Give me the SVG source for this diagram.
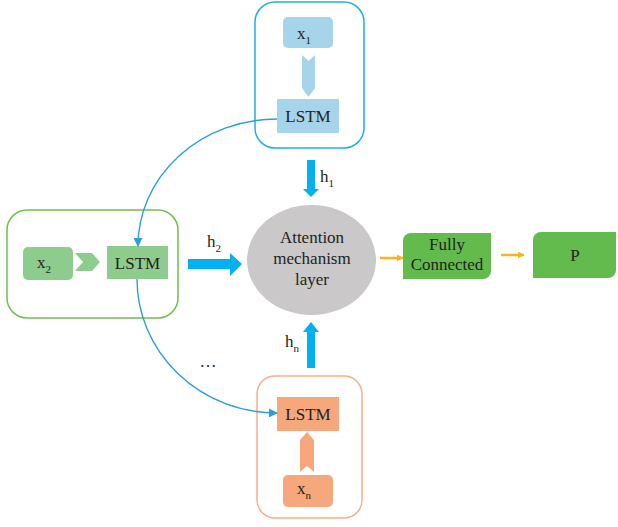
<svg xmlns="http://www.w3.org/2000/svg" width="618" height="527" viewBox="0 0 618 527">
<style>
text{font-family:"Liberation Serif","DejaVu Serif",serif;fill:#231f20;text-anchor:middle}
.t{font-size:17px}
.s{font-size:11px}
.b{fill:#a6d4ea}
.g{fill:#8dcc8d}
.o{fill:#f6a77c}
.fc{fill:#63bb4d}
.ha{fill:#00b0f0}
.cur{fill:none;stroke:#2a9fda;stroke-width:1.4}
.orl{stroke:#ffb31a;stroke-width:2.5}
</style>
<defs>
<marker id="ab" viewBox="0 0 10 10" refX="9" refY="5" markerWidth="9" markerHeight="9" markerUnits="userSpaceOnUse" orient="auto"><path d="M0,0L10,5L0,10z" fill="#2a9fda"/></marker>
<marker id="ao" viewBox="0 0 10 10" refX="9" refY="5" markerWidth="7" markerHeight="7" markerUnits="userSpaceOnUse" orient="auto"><path d="M0,0L10,5L0,10z" fill="#ffb31a"/></marker>
</defs>
<rect width="618" height="527" fill="#fff"/>
<g id="top">
<rect x="255" y="2" width="109" height="146" rx="20" fill="none" stroke="#1bb0e8" stroke-width="1.5"/>
<rect class="b" x="283" y="17" width="50" height="31" rx="5"/>
<text class="t" x="304" y="39">x<tspan class="s" dy="5">1</tspan></text>
<polygon class="b" points="302,55 308.5,61 315,55 315,88 308.5,97 302,88"/>
<rect class="b" x="277" y="99" width="62" height="34"/>
<text class="t" x="308" y="122">LSTM</text>
</g>
<g id="mid">
<rect x="7" y="210" width="171" height="108" rx="20" fill="none" stroke="#70c04d" stroke-width="1.5"/>
<rect class="g" x="23" y="247" width="50" height="33" rx="5"/>
<text class="t" x="44" y="268">x<tspan class="s" dy="5">2</tspan></text>
<polygon class="g" points="75,253 92,253 100,262 92,271 75,271 83,262"/>
<rect class="g" x="107" y="246" width="61" height="33"/>
<text class="t" x="137.5" y="269">LSTM</text>
</g>
<g id="bottom">
<rect x="257" y="376" width="105" height="142" rx="18" fill="none" stroke="#f6ae8a" stroke-width="1.5"/>
<rect class="o" x="277" y="397" width="62" height="34"/>
<text class="t" x="308" y="420">LSTM</text>
<polygon class="o" points="300,440 307,432 314,440 314,472 307,466 300,472"/>
<rect class="o" x="283" y="475" width="50" height="32" rx="5"/>
<text class="t" x="304" y="494">x<tspan class="s" dy="5">n</tspan></text>
</g>
<g id="attention">
<ellipse cx="311.5" cy="260" rx="64.5" ry="55" fill="#cac8c8"/>
<text class="t" x="312" y="243">Attention</text>
<text class="t" x="312" y="264">mechanism</text>
<text class="t" x="312" y="285">layer</text>
</g>
<g id="fully">
<path class="fc" d="M411,233H491V271A8,8 0 0 1 483,279H403V241A8,8 0 0 1 411,233Z"/>
<text class="t" x="447" y="250">Fully</text>
<text class="t" x="447" y="270">Connected</text>
</g>
<g id="p">
<path class="fc" d="M541,232H616V270A8,8 0 0 1 608,278H533V240A8,8 0 0 1 541,232Z"/>
<text class="t" x="575" y="261">P</text>
</g>
<g id="connectors">
<path class="cur" d="M277,119A139,127 0 0 0 138,246" marker-end="url(#ab)"/>
<path class="cur" d="M137,279A140,134 0 0 0 277,413" marker-end="url(#ab)"/>
<polygon class="ha" points="307,160 315,160 315,189 319,189 311,197 303,189 307,189"/>
<polygon class="ha" points="307,368 315,368 315,332 319,332 311,322 303,332 307,332"/>
<polygon class="ha" points="188,259 230,259 230,253 242,264 230,276 230,269 188,269"/>
<line class="orl" x1="380" y1="258" x2="403" y2="258" marker-end="url(#ao)"/>
<line class="orl" x1="501" y1="255" x2="524" y2="255" marker-end="url(#ao)"/>
<text class="t" x="327" y="182">h<tspan class="s" dy="5">1</tspan></text>
<text class="t" x="214" y="247">h<tspan class="s" dy="5">2</tspan></text>
<text class="t" x="292" y="347">h<tspan class="s" dy="5">n</tspan></text>
<text class="t" x="208" y="367">…</text>
</g>
</svg>
